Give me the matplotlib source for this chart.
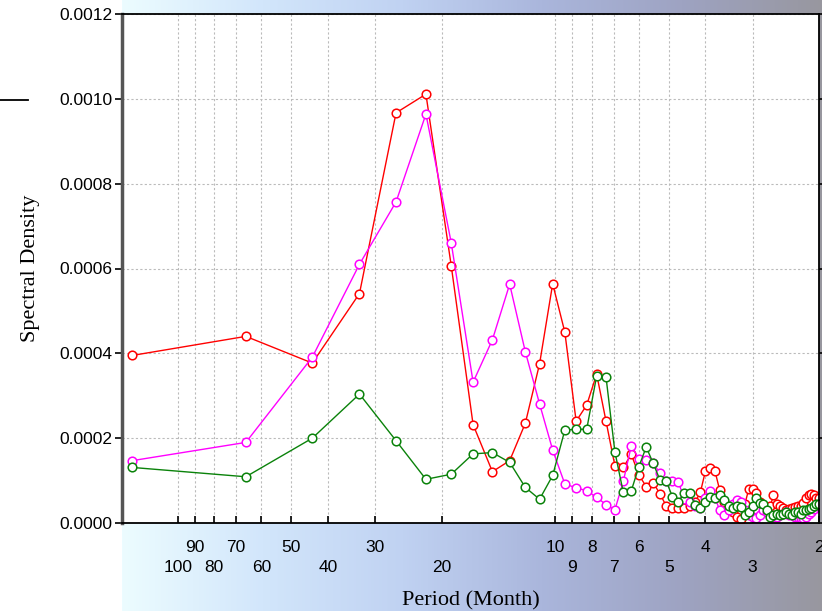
import numpy as np
import matplotlib
matplotlib.use("Agg")
import matplotlib.pyplot as plt
from matplotlib.colors import LinearSegmentedColormap

# periodogram harmonics of a 132-month record: period = 132 / k
n_months = 132
harmonic = np.arange(1, 67)
period = n_months / harmonic

red = [0.000395, 0.000440, 0.000377, 0.000541, 0.000967, 0.001011, 0.000607, 0.000232,
       0.000121, 0.000147, 0.000235, 0.000375, 0.000564, 0.000450, 0.000240, 0.000278,
       0.000351, 0.000240, 0.000135, 0.000131, 0.000162, 0.000113, 0.000086, 0.000095,
       0.000069, 0.000040, 0.000035, 0.000035, 0.000035, 0.000040, 0.000050, 0.000072,
       0.000122, 0.000130, 0.000122, 0.000078, 0.000050, 0.000035, 0.000025, 0.000015,
       0.000010, 0.000045, 0.000080, 0.000080, 0.000070, 0.000050, 0.000040, 0.000030,
       0.000040, 0.000065, 0.000045, 0.000040, 0.000035, 0.000030, 0.000032, 0.000035,
       0.000038, 0.000040, 0.000040, 0.000048, 0.000058, 0.000065, 0.000068, 0.000065,
       0.000060, 0.000060]

magenta = [0.000147, 0.000190, 0.000391, 0.000610, 0.000757, 0.000964, 0.000661, 0.000332,
           0.000432, 0.000563, 0.000404, 0.000281, 0.000172, 0.000092, 0.000083, 0.000076,
           0.000061, 0.000043, 0.000031, 0.000098, 0.000182, 0.000151, 0.000149, 0.000142,
           0.000117, 0.000098, 0.000098, 0.000097, 0.000056, 0.000050, 0.000040, 0.000035,
           0.000060, 0.000075, 0.000060, 0.000030, 0.000020, 0.000030, 0.000045, 0.000055,
           0.000050, 0.000030, 0.000020, 0.000015, 0.000012, 0.000020, 0.000031, 0.000025,
           0.000019, 0.000015, 0.000015, 0.000020, 0.000022, 0.000025, 0.000020, 0.000019,
           0.000015, 0.000015, 0.000012, 0.000011, 0.000015, 0.000022, 0.000027, 0.000033,
           0.000040, 0.000045]

green = [0.000131, 0.000109, 0.000200, 0.000304, 0.000194, 0.000103, 0.000115, 0.000163,
         0.000166, 0.000143, 0.000084, 0.000056, 0.000112, 0.000219, 0.000221, 0.000221,
         0.000347, 0.000344, 0.000168, 0.000072, 0.000076, 0.000133, 0.000179, 0.000141,
         0.000102, 0.000098, 0.000062, 0.000050, 0.000070, 0.000070, 0.000043, 0.000035,
         0.000050, 0.000062, 0.000060, 0.000065, 0.000055, 0.000040, 0.000035, 0.000040,
         0.000038, 0.000020, 0.000025, 0.000040, 0.000060, 0.000048, 0.000045, 0.000030,
         0.000015, 0.000020, 0.000022, 0.000020, 0.000022, 0.000025, 0.000022, 0.000020,
         0.000025, 0.000025, 0.000022, 0.000030, 0.000030, 0.000032, 0.000035, 0.000040,
         0.000045, 0.000045]

# tick labels sit in two staggered rows
x_ticks_upper = [90, 70, 50, 30, 10, 8, 6, 4, 2]
x_ticks_lower = [100, 80, 60, 40, 20, 9, 7, 5, 3]
y_ticks = [0.0, 0.0002, 0.0004, 0.0006, 0.0008, 0.0010, 0.0012]

fig = plt.figure(figsize=(8.22, 6.11), dpi=100)
fig.patch.set_facecolor("white")

# gradient backdrop behind the plot
bg = fig.add_axes([122 / 822, 0, 1 - 122 / 822, 1])
bg_cmap = LinearSegmentedColormap.from_list(
    "sky", ["#ecfcff", "#d2e6fb", "#c0d2f2", "#aab6dc", "#9ea3c2", "#98979f"])
bg.imshow(np.linspace(0, 1, 256)[None, :], aspect="auto", cmap=bg_cmap,
          extent=[0, 1, 0, 1])
bg.axis("off")

ax = fig.add_axes([122 / 822, 88 / 611, (819 - 122) / 822, (523 - 14) / 611])
ax.set_facecolor("white")

for vals, col in [(red, "#ff0000"), (magenta, "#ff00ff"), (green, "#0a820a")]:
    ax.plot(period, vals, color=col, lw=1.0, marker="o", ms=6.2,
            mfc="white", mec=col, mew=1.1)

ax.set_xscale("log")
ax.set_xlim(140.5, 2)
ax.set_ylim(0, 0.0012)

ax.set_xticks(x_ticks_upper)
ax.set_xticklabels([str(t) for t in x_ticks_upper], fontsize=12.5, family="Liberation Sans")
ax.set_xticks(x_ticks_lower, minor=True)
ax.set_xticklabels([str(t) for t in x_ticks_lower], minor=True, fontsize=12.5,
                   family="Liberation Sans")
ax.set_yticks(y_ticks)
ax.set_yticklabels(["%.4f" % v for v in y_ticks], fontsize=12.5, family="Liberation Sans")

ax.tick_params(axis="x", which="major", direction="in", length=5, width=1.2, pad=12, top=False)
ax.tick_params(axis="x", which="minor", direction="in", length=5, width=1.2, pad=27, top=False)
ax.tick_params(axis="y", direction="out", length=5, width=1.2, pad=2, right=True)

ax.grid(True, which="both", axis="x", color="#bbbbbb", linestyle=(0, (2, 2)), linewidth=0.8)
ax.grid(True, which="major", axis="y", color="#bbbbbb", linestyle=(0, (2, 2)), linewidth=0.8)
for side in ["top", "right", "bottom"]:
    ax.spines[side].set_color("black")
    ax.spines[side].set_linewidth(1.3)
ax.spines["left"].set_color("#555555")
ax.spines["left"].set_linewidth(2.5)

ax.set_ylabel("Spectral Density", family="Liberation Serif", fontsize=16, labelpad=14)
ax.set_xlabel("Period (Month)", family="Liberation Serif", fontsize=16, labelpad=11)

# stray mark at the left edge of the original figure
fig.add_artist(plt.Line2D([0, 28 / 822], [1 - 100 / 611, 1 - 100 / 611], color="black", lw=1.3))

fig.savefig("out.png", dpi=100)
